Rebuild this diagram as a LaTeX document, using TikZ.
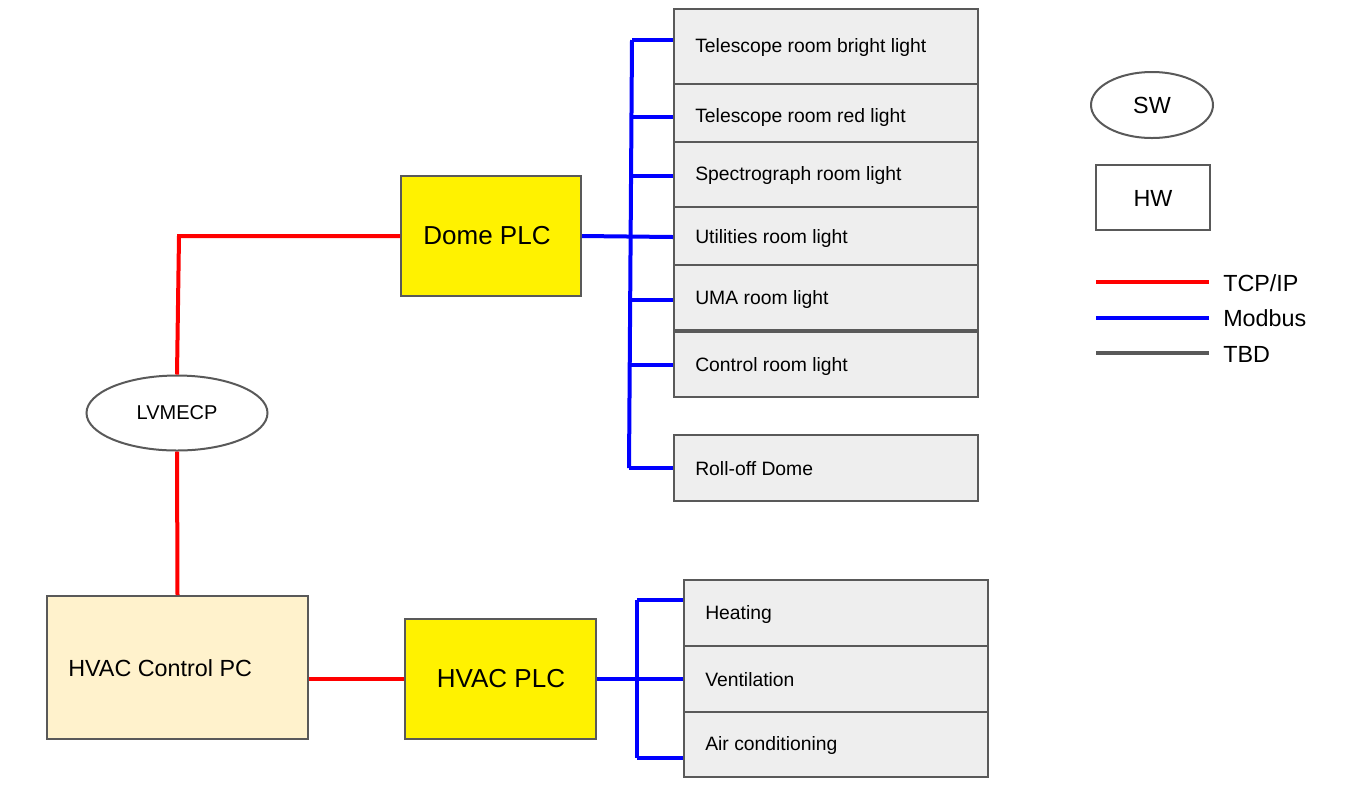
\documentclass[tikz,border=0pt]{standalone}
\usepackage{fontspec}
\setmainfont{Liberation Sans}
\usetikzlibrary{fit,shapes.geometric}
\definecolor{edge}{HTML}{595959}
\definecolor{boxfill}{HTML}{EEEEEE}
\definecolor{pcfill}{HTML}{FFF2CC}
\begin{document}
\begin{tikzpicture}[x=0.75pt,y=-0.75pt,
  box/.style={draw=edge,line width=1.5pt,fill=boxfill,inner sep=0pt},
  plc/.style={draw=edge,line width=1.5pt,fill=yellow,inner sep=0pt},
  sw/.style={draw=edge,line width=1.5pt,ellipse,inner sep=0pt},
  lbl/.style={anchor=west,font=\fontsize{14.5pt}{16pt}\selectfont,inner sep=0pt},
  big/.style={font=\fontsize{17.5pt}{20pt}\selectfont,inner sep=0pt},
  tcp/.style={draw=red,line width=3pt},
  mod/.style={draw=blue,line width=3pt},
  tbd/.style={draw=edge,line width=3pt}]
\useasboundingbox (0,0) rectangle (1348,790);
% dome boxes
\node[box,fit={(674,9)(978,84)}] (b1) {};
\node[box,fit={(674,84)(978,142)}] (b2) {};
\node[box,fit={(674,142)(978,207)}] (b3) {};
\node[box,fit={(674,207)(978,265)}] (b4) {};
\node[box,fit={(674,265)(978,330)}] (b5) {};
\node[box,fit={(674,332)(978,397)}] (b6) {};
\node[box,fit={(674,435)(978,501)}] (b7) {};
\node[lbl] (t1) at (695,47) {Telescope room bright light};
\node[lbl] (t2) at (695,117) {Telescope room red light};
\node[lbl] (t3) at (695,175) {Spectrograph room light};
\node[lbl] (t4) at (695,238) {Utilities room light};
\node[lbl] (t5) at (695,299) {UMA room light};
\node[lbl] (t6) at (695,366) {Control room light};
\node[lbl] (t7) at (695,469) {Roll-off Dome};
% hvac boxes
\node[box,fit={(684,580)(988,646)}] (h1) {};
\node[box,fit={(684,646)(988,712)}] (h2) {};
\node[box,fit={(684,712)(988,777)}] (h3) {};
\node[lbl] (u1) at (705,614) {Heating};
\node[lbl] (u2) at (705,680) {Ventilation};
\node[lbl] (u3) at (705,745) {Air conditioning};
% PLCs
\node[plc,fit={(401,176)(581,296)}] (dome) {};
\node[big,font=\fontsize{19.5pt}{22pt}\selectfont] at (487,236) {Dome PLC};
\node[plc,fit={(405,619)(596,739)}] (hplc) {};
\node[big,font=\fontsize{19.5pt}{22pt}\selectfont] at (501,679) {HVAC PLC};
\node[draw=edge,line width=1.5pt,fill=pcfill,inner sep=0pt,fit={(47,596)(308,739)}] (pc) {};
\node[big,anchor=west] at (68,668) {HVAC Control PC};
\node[sw,minimum width=181*0.75pt,minimum height=75*0.75pt,font=\fontsize{15pt}{17pt}\selectfont] (lv) at (177,413) {LVMECP};
% legend
\node[sw,minimum width=122*0.75pt,minimum height=66*0.75pt,big] (sw) at (1152,105) {SW};
\node[draw=edge,line width=1.5pt,inner sep=0pt,fit={(1096,165)(1210,230)}] (hw) {};
\node[big] at (1153,198) {HW};
\coordinate (l1a) at (1096,282); \coordinate (l1b) at (1209,282);
\coordinate (l2a) at (1096,318); \coordinate (l2b) at (1209,318);
\coordinate (l3a) at (1096,353); \coordinate (l3b) at (1209,353);
\draw[tcp] (l1a) -- (l1b); \draw[mod] (l2a) -- (l2b); \draw[tbd] (l3a) -- (l3b);
\node[big,anchor=west] at (1223,283) {TCP/IP};
\node[big,anchor=west] at (1223,318) {Modbus};
\node[big,anchor=west] at (1223,354) {TBD};
% red links
\coordinate (c1) at (179,236);
\draw[tcp] (lv.north) -- (c1) -- (dome.west);
\draw[tcp] (lv.south) -- (pc.north);
\draw[tcp] (pc.east |- hplc.west) -- (hplc.west);
% dome bus
\coordinate (bt) at (632,40); \coordinate (bb) at (629,468);
\draw[mod] (bt) -- (bb);
\draw[mod] (bt) -- (b1.west |- 0,40);
\draw[mod] (631,117) -- (b2.west |- 0,117);
\draw[mod] (631,176) -- (b3.west |- 0,176);
\draw[mod] (dome.east) -- (b4.west |- 0,237);
\draw[mod] (630,300) -- (b5.west |- 0,300);
\draw[mod] (630,365) -- (b6.west |- 0,365);
\draw[mod] (bb) -- (b7.west |- 0,468);
% hvac bus
\coordinate (ht) at (637,600); \coordinate (hb) at (637,758);
\draw[mod] (ht) -- (hb);
\draw[mod] (ht) -- (h1.west |- 0,600);
\draw[mod] (hplc.east) -- (h2.west |- 0,679);
\draw[mod] (hb) -- (h3.west |- 0,758);
\end{tikzpicture}
\end{document}
